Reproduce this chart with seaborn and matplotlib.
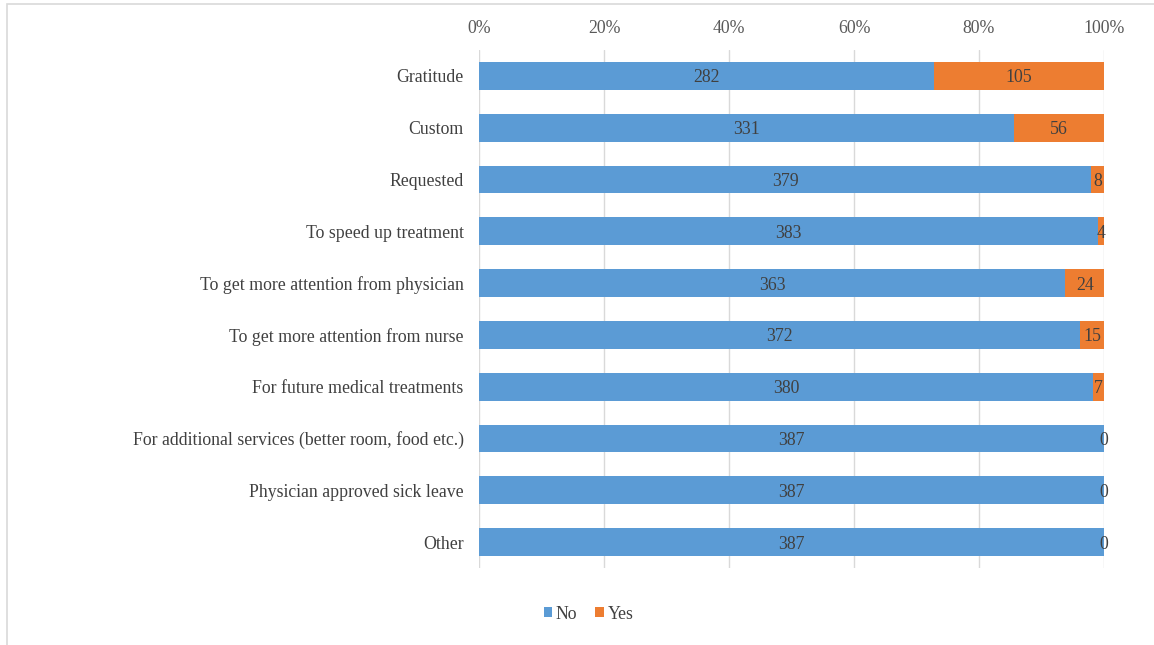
import matplotlib
matplotlib.use("Agg")
import matplotlib.pyplot as plt
from matplotlib.patches import Rectangle, Patch
from matplotlib.ticker import PercentFormatter
import seaborn as sns
import pandas as pd

categories = [
    "Gratitude",
    "Custom",
    "Requested",
    "To speed up treatment",
    "To get more attention from physician",
    "To get more attention from nurse",
    "For future medical treatments",
    "For additional services (better room, food etc.)",
    "Physician approved sick leave",
    "Other",
]
no_counts = [282, 331, 379, 383, 363, 372, 380, 387, 387, 387]
yes_counts = [105, 56, 8, 4, 24, 15, 7, 0, 0, 0]
series_names = ["No", "Yes"]
tick_values = [0, 0.2, 0.4, 0.6, 0.8, 1.0]

BLUE = "#5B9BD5"
ORANGE = "#ED7D31"
TEXT = "#404040"
TICK = "#595959"
FS = 12.8

sns.set_theme(style="white")
plt.rcParams["font.family"] = ["Liberation Serif", "DejaVu Serif"]

totals = [n + y for n, y in zip(no_counts, yes_counts)]
df = pd.DataFrame({
    "category": categories,
    "no_share": [n / t for n, t in zip(no_counts, totals)],
    "full": [1.0] * len(categories),
})

fig = plt.figure(figsize=(11.54, 6.45), dpi=100)
ax = fig.add_axes([0.4151, 0.1194, 0.5416, 0.8031])

# full-width orange bars underneath, blue "No" share on top gives the stacked look
sns.barplot(data=df, y="category", x="full", color=ORANGE, orient="h",
            width=0.54, ax=ax, saturation=1, linewidth=0, zorder=2)
sns.barplot(data=df, y="category", x="no_share", color=BLUE, orient="h",
            width=0.54, ax=ax, saturation=1, linewidth=0, zorder=3)

ax.set_xlim(0, 1)
ax.set_ylim(len(categories) - 0.5, -0.5)
ax.set_xticks(tick_values)
ax.xaxis.set_major_formatter(PercentFormatter(1.0, decimals=0))
ax.xaxis.tick_top()
ax.set_xlabel("")
ax.set_ylabel("")
ax.tick_params(axis="x", length=0, pad=9, labelsize=FS, colors=TICK)
ax.tick_params(axis="y", length=0, pad=11, labelsize=FS, colors=TEXT)
for s in ax.spines.values():
    s.set_visible(False)
ax.grid(axis="x", color="#D9D9D9", linewidth=1, zorder=0)
ax.set_axisbelow(True)

# segment value labels
for i, (n, y, t) in enumerate(zip(no_counts, yes_counts, totals)):
    ns = n / t
    ax.text(ns / 2, i, str(n), ha="center", va="center_baseline",
            fontsize=FS, color=TEXT, zorder=5)
    ax.text(ns + (y / t) / 2, i, str(y), ha="center", va="center_baseline",
            fontsize=FS, color=TEXT, zorder=5)

handles = [Patch(facecolor=BLUE, edgecolor="none"),
           Patch(facecolor=ORANGE, edgecolor="none")]
fig.legend(handles, series_names, loc="center", bbox_to_anchor=(0.51, 0.048),
           ncol=2, frameon=False, fontsize=FS, handlelength=0.5,
           handleheight=0.5, handletextpad=0.2, columnspacing=1.0,
           labelcolor=TEXT)

# light frame around the chart area
fig.patches.append(Rectangle((7 / 1154, -0.01), 1.02, 1 - 4 / 645 + 0.01,
                             transform=fig.transFigure, fill=False,
                             edgecolor="#D9D9D9", linewidth=1.2))

fig.savefig("out.png", dpi=100)
